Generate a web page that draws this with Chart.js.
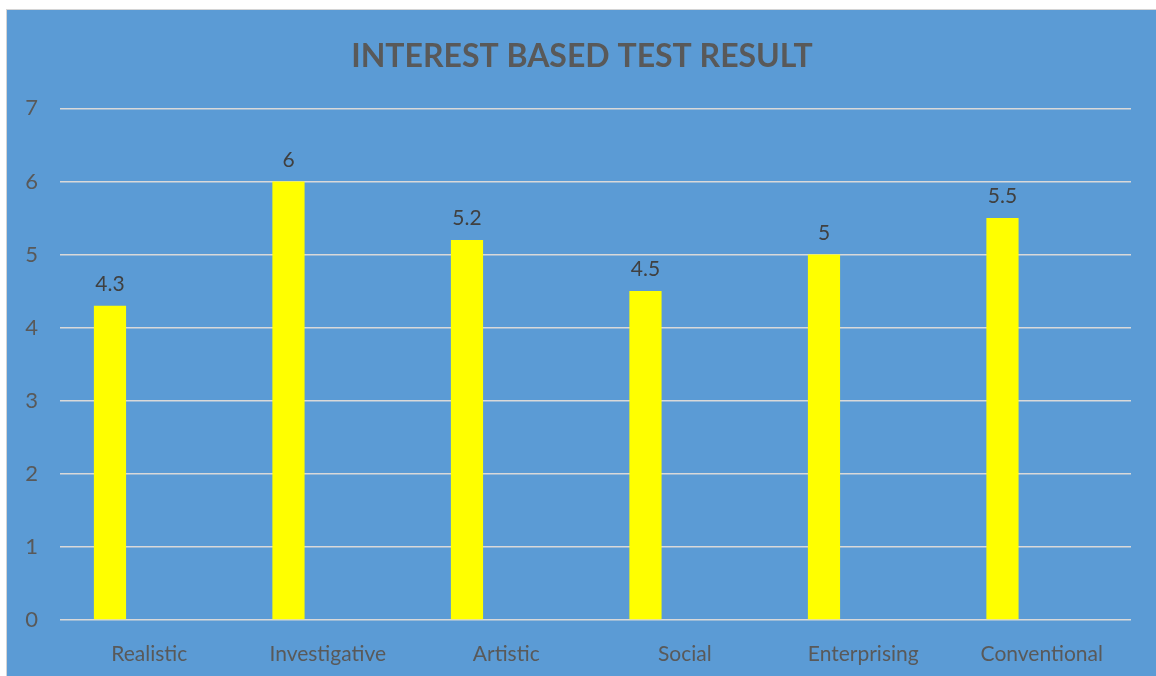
<!DOCTYPE html>
<html>
<head>
<meta charset="utf-8">
<script src="https://cdn.jsdelivr.net/npm/chart.js@4/dist/chart.umd.min.js"></script>
<style>
  html, body { margin: 0; padding: 0; background: #ffffff; }
  #wrap {
    position: absolute; left: 6px; top: 9px;
    width: 1150px; height: 667px;
    border-left: 1px solid #d4d4d4; border-top: 1px solid #d4d4d4;
    background: #5b9bd5;
  }
</style>
</head>
<body>
<div id="wrap"><canvas id="chart" width="1150" height="667"></canvas></div>
<script>
const categories = ["Realistic", "Investigative", "Artistic", "Social", "Enterprising", "Conventional"];
const scores = [4.3, 6, 5.2, 4.5, 5, 5.5];
// empty second series: keeps the bars in the left half of each slot like the original
const emptySeries = [null, null, null, null, null, null];
const yTicks = [0, 1, 2, 3, 4, 5, 6, 7];

const FONT = "Lato, 'Open Sans', sans-serif";

// values written above the bars
const barValues = {
  id: "barValues",
  afterDatasetsDraw(chart) {
    const ctx = chart.ctx;
    const meta = chart.getDatasetMeta(0);
    ctx.save();
    ctx.font = "21px " + FONT;
    ctx.fillStyle = "#404040";
    ctx.textAlign = "center";
    ctx.textBaseline = "bottom";
    meta.data.forEach((bar, i) => {
      ctx.fillText(String(scores[i]), bar.x, bar.y - 11);
    });
    ctx.restore();
  }
};

new Chart(document.getElementById("chart"), {
  type: "bar",
  data: {
    labels: categories,
    datasets: [
      {
        label: "Score",
        data: scores,
        backgroundColor: "#ffff00",
        categoryPercentage: 0.88,
        barPercentage: 0.41
      },
      {
        label: "",
        data: emptySeries,
        backgroundColor: "#ffff00",
        categoryPercentage: 0.88,
        barPercentage: 0.41
      }
    ]
  },
  options: {
    responsive: false,
    animation: false,
    layout: { padding: 0 },
    plugins: {
      legend: { display: false },
      tooltip: { enabled: false },
      title: {
        display: true,
        text: "INTEREST BASED TEST RESULT",
        color: "#595959",
        font: { family: FONT, size: 32, weight: "bold" },
        padding: { top: 27, bottom: 33 }
      }
    },
    scales: {
      x: {
        grid: { display: false },
        border: { display: false },
        ticks: {
          color: "#595959",
          font: { family: FONT, size: 21 },
          padding: 14
        },
        afterFit(scale) { scale.height = 57; }
      },
      y: {
        min: 0,
        max: 7,
        afterBuildTicks(scale) { scale.ticks = yTicks.map(v => ({ value: v })); },
        grid: { color: "#d9d9d9", lineWidth: 1.5, drawTicks: false },
        border: { display: false },
        ticks: {
          color: "#595959",
          font: { family: FONT, size: 22 },
          padding: 22
        },
        afterFit(scale) { scale.width = 53; }
      },
      // blank right-hand strip so the title centres on the whole panel
      yRight: {
        position: "right",
        grid: { display: false },
        border: { display: false },
        ticks: { display: false },
        afterFit(scale) { scale.width = 26; }
      }
    }
  },
  plugins: [barValues]
});
</script>
</body>
</html>
